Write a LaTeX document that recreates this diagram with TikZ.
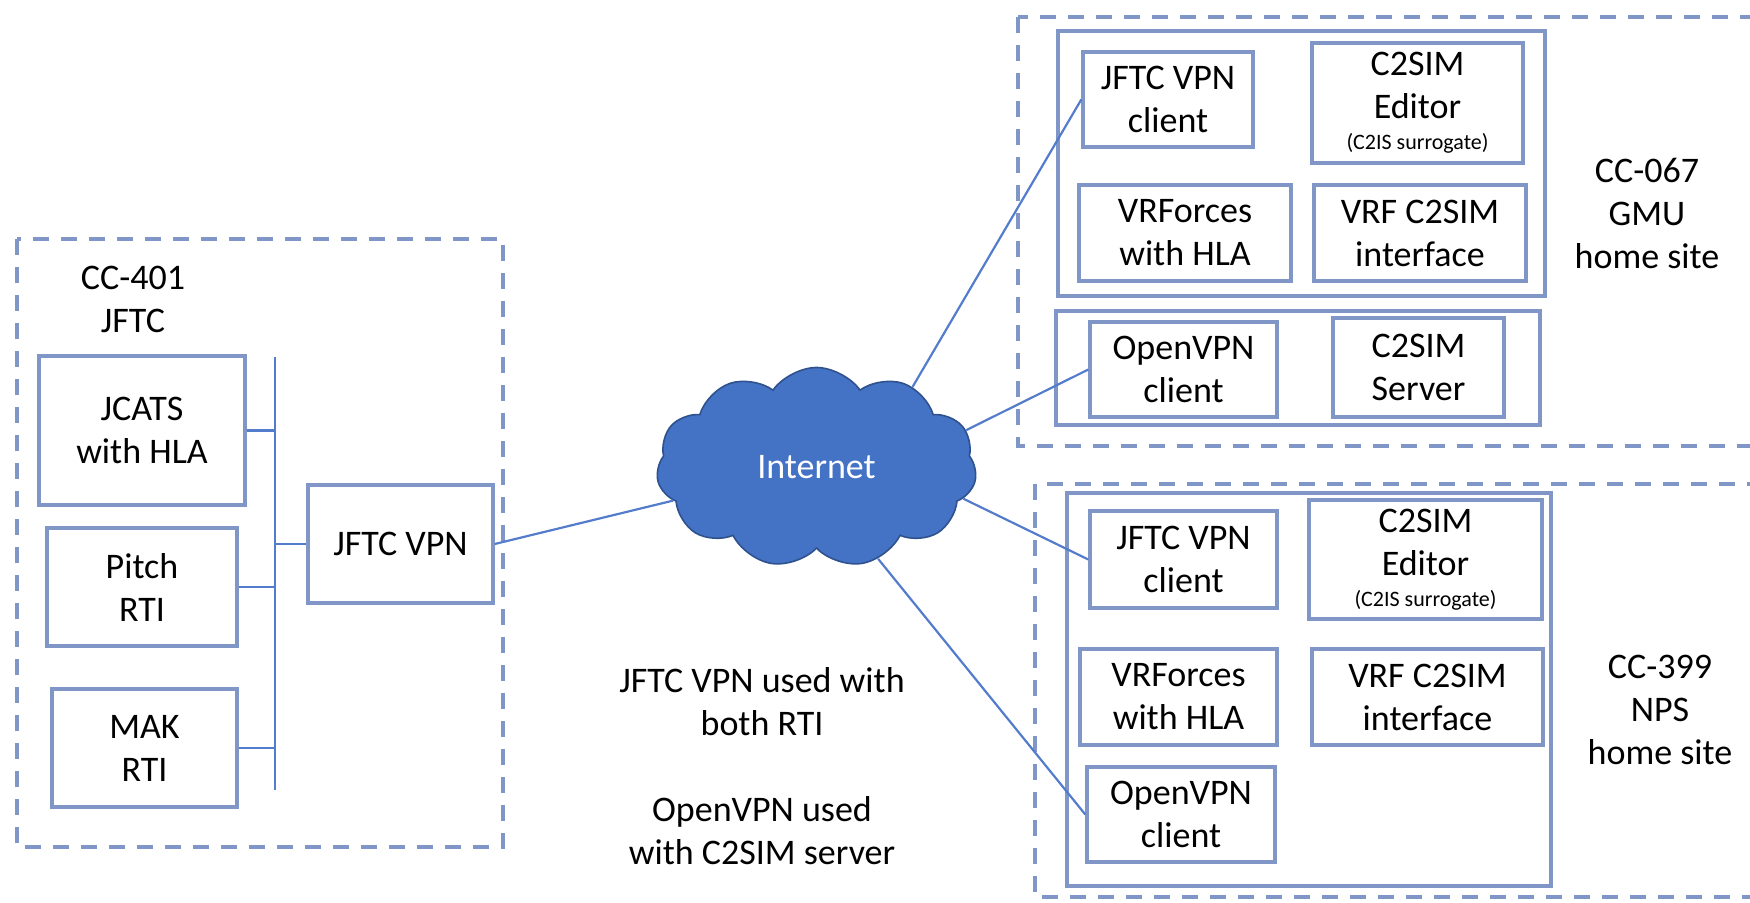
\documentclass[tikz,border=0pt]{standalone}
\usepackage{fontspec}
\setmainfont{Carlito}
\usetikzlibrary{shapes.symbols}
\definecolor{boxblue}{RGB}{128,150,198}
\definecolor{wireblue}{RGB}{84,124,204}
\definecolor{cloudblue}{RGB}{68,114,196}
\definecolor{cloudedge}{RGB}{47,82,143}
\tikzset{
    sysbox/.style 2 args={draw=boxblue, line width=1.7pt, align=center, inner sep=0, minimum width=#1, minimum height=#2},
    grpbox/.style={draw=boxblue, line width=1.7pt},
    sitebox/.style={draw=boxblue, line width=2.2pt, dash pattern=on 8pt off 6pt},
    sitelbl/.style={align=center, inner sep=0},
    wire/.style={draw=wireblue, line width=1.1pt},
    netcloud/.style={cloud, cloud puffs=11, cloud puff arc=110, aspect=1.55, fill=cloudblue, draw=cloudedge, line width=0.8pt, text=white, minimum width=160pt, minimum height=100pt},
    notetext/.style={align=center, inner sep=0}
}

\begin{document}
\begin{tikzpicture}[x=0.5pt, y=-0.5pt, font=\fontsize{18}{21.5}\selectfont]
    \useasboundingbox (0,0) rectangle (1750,903);

    % CC-401 JFTC
    \draw[sitebox] (17,239) rectangle (503,847);
    \node[sitelbl] (jftclbl) at (133,299) {CC-401\\JFTC};
    \node[sysbox={103pt}{74.5pt}] (jcats) at (142,430.5) {JCATS\\with HLA};
    \node[sysbox={95pt}{59pt}] (pitch) at (142,587) {Pitch\\RTI};
    \node[sysbox={92.5pt}{59pt}] (mak) at (144.5,748) {MAK\\RTI};
    \node[sysbox={92.5pt}{59pt}] (jvpn) at (400.5,544) {JFTC VPN};
    \coordinate (bustop) at (275,357);
    \coordinate (busbot) at (275,790);
    \draw[wire] (bustop) -- (busbot);
    \foreach \n in {jcats,pitch,mak}
        \draw[wire] (\n.east) -- (\n.east -| bustop);
    \draw[wire] (jvpn.west -| bustop) -- (jvpn.west);

    % Internet
    \node[netcloud] (inet) at (816.5,467.5) {Internet};
    \node[notetext] (usage) at (762,766) {JFTC VPN used with\\both RTI\\[21.5pt]OpenVPN used\\with C2SIM server};

    % CC-067 GMU
    \draw[sitebox] (1018,17) rectangle (1770,446);
    \draw[grpbox] (1058,31) rectangle (1545,296);
    \draw[grpbox] (1056,311) rectangle (1540,425);
    \node[sysbox={85pt}{47.5pt}] (gjvpn) at (1168,99.5) {JFTC VPN\\client};
    \node[sysbox={105.5pt}{60pt}] (geditor) at (1417.5,103) {C2SIM\\Editor\\[-6pt]{\fontsize{11}{13}\selectfont (C2IS surrogate)}};
    \node[sysbox={106pt}{48pt}] (gvrf) at (1185,233) {VRForces\\with HLA};
    \node[sysbox={106pt}{48pt}] (gvrfc) at (1420,233) {VRF C2SIM\\interface};
    \node[sysbox={93.5pt}{47.5pt}] (govpn) at (1183.5,369.5) {OpenVPN\\client};
    \node[sysbox={85.5pt}{49.5pt}] (gserver) at (1418.5,367.5) {C2SIM\\Server};
    \node[sitelbl] (gmulbl) at (1647,213) {CC-067\\GMU\\home site};

    % CC-399 NPS
    \draw[sitebox] (1035,484) rectangle (1770,897);
    \draw[grpbox] (1067,493) rectangle (1551,886);
    \node[sysbox={93.5pt}{48.5pt}] (njvpn) at (1183.5,559.5) {JFTC VPN\\client};
    \node[sysbox={116.5pt}{59.5pt}] (neditor) at (1425.5,559.5) {C2SIM\\Editor\\[-6pt]{\fontsize{11}{13}\selectfont (C2IS surrogate)}};
    \node[sysbox={98.5pt}{48pt}] (nvrf) at (1178.5,697) {VRForces\\with HLA};
    \node[sysbox={115.5pt}{48pt}] (nvrfc) at (1427.5,697) {VRF C2SIM\\interface};
    \node[sysbox={94pt}{47.5pt}] (novpn) at (1181,814.5) {OpenVPN\\client};
    \node[sitelbl] (npslbl) at (1660,710) {CC-399\\NPS\\home site};

    % links to the internet
    \draw[wire] (jvpn.east) -- (inet.193);
    \draw[wire] (inet.40) -- (gjvpn.west);
    \draw[wire] (inet.14) -- (govpn.west);
    \draw[wire] (inet.-12) -- (njvpn.west);
    \draw[wire] (inet.-56) -- (novpn.west);
\end{tikzpicture}
\end{document}
